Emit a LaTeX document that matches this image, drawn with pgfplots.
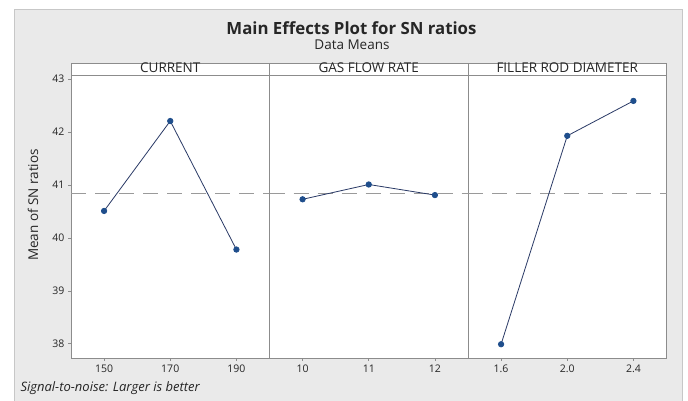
\documentclass[border=0pt]{standalone}
\usepackage{fontspec}
\setmainfont{Open Sans}
\usepackage{pgfplots}
\pgfplotsset{compat=1.18}

\definecolor{bgray}{HTML}{EAEAEA}
\definecolor{frame}{HTML}{8C8C8C}
\definecolor{ptblue}{HTML}{1F4E8C}
\definecolor{lnavy}{HTML}{2A3A66}
\definecolor{dashg}{HTML}{9A9A9A}

\pgfplotsset{
  panel/.style={
    scale only axis, width=198.5pt, height=283pt,
    ymin=37.73, ymax=43.08,
    axis line style={frame, line width=0.8pt},
    tick style={frame, line width=0.6pt},
    tick align=outside, major tick length=3pt,
    xtick pos=bottom, ytick pos=left,
    ticklabel style={font=\fontsize{10.5}{11}\selectfont, text=black!85},
    /pgf/number format/assume math mode=true,
    axis background/.style={fill=white},
    clip=false,
  },
  meanline/.style={dashg, line width=0.9pt, dash pattern=on 15pt off 9pt},
  series/.style={lnavy, line width=0.8pt, mark=*, mark size=2.7pt,
    mark options={fill=ptblue, draw=ptblue}},
}

\begin{document}
\begin{tikzpicture}[x=1pt,y=1pt]
\useasboundingbox (0,0) rectangle (688,401);
\fill[white] (0,0) rectangle (688,401);
\filldraw[fill=bgray, draw=black!22, line width=0.8pt] (14.5,0) rectangle (682,391.5);

\node[font=\fontsize{16.8}{18}\selectfont\bfseries, text=black!85] at (351.5,373) {Main Effects Plot for SN ratios};
\node[font=\fontsize{13.5}{14}\selectfont, text=black!85] at (352,356) {Data Means};

% CURRENT
\begin{axis}[panel, at={(71pt,43pt)}, anchor=south west,
  xmin=140, xmax=200, xtick={150,170,190},
  ytick={38,39,40,41,42,43}]
\addplot[meanline] coordinates {(140,40.85) (200,40.85)};
\addplot[series] coordinates {(150,40.51) (170,42.21) (190,39.78)};
\end{axis}

% GAS FLOW RATE
\begin{axis}[panel, at={(269.5pt,43pt)}, anchor=south west,
  xmin=9.5, xmax=12.5, xtick={10,11,12}, ytick=\empty]
\addplot[meanline] coordinates {(9.5,40.85) (12.5,40.85)};
\addplot[series] coordinates {(10,40.73) (11,41.01) (12,40.81)};
\end{axis}

% FILLER ROD DIAMETER
\begin{axis}[panel, at={(468pt,43pt)}, anchor=south west,
  xmin=1.4, xmax=2.6, xtick={1.6,2.0,2.4}, ytick=\empty,
  xticklabel style={/pgf/number format/.cd, fixed, fixed zerofill, precision=1}]
\addplot[meanline] coordinates {(1.4,40.85) (2.6,40.85)};
\addplot[series] coordinates {(1.6,37.99) (2.0,41.93) (2.4,42.59)};
\end{axis}

\node[rotate=90, font=\fontsize{13.5}{14}\selectfont, text=black!85] at (33,196) {Mean of SN ratios};

% strip headers
\filldraw[fill=white, draw=frame, line width=0.8pt] (71,326) rectangle (666.5,338);
\draw[frame, line width=0.8pt] (269.5,326) -- (269.5,338) (468,326) -- (468,338);
\node[font=\fontsize{13.5}{14}\selectfont, text=black!85] at (170.25,333.3) {CURRENT};
\node[font=\fontsize{13.5}{14}\selectfont, text=black!85] at (368.75,333.3) {GAS FLOW RATE};
\node[font=\fontsize{13.5}{14}\selectfont, text=black!85] at (567.25,333.3) {FILLER ROD DIAMETER};

\node[font=\fontsize{13}{14}\selectfont\itshape, text=black!85, anchor=west] at (17,12.5) {Signal-to-noise: Larger is better};
\end{tikzpicture}
\end{document}
